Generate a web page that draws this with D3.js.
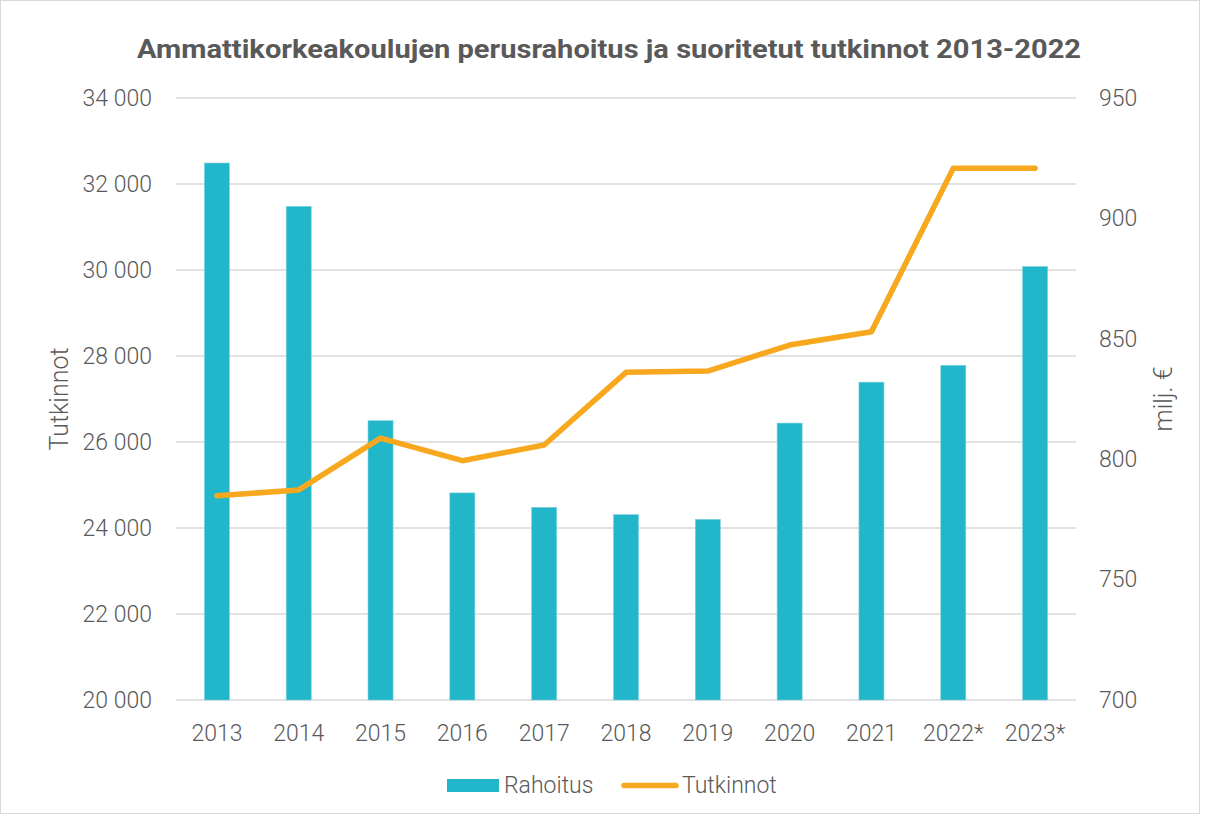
<!DOCTYPE html>
<html>
<head>
<meta charset="utf-8">
<script src="https://cdn.jsdelivr.net/npm/d3@7"></script>
<style>
  html, body { margin: 0; padding: 0; background: #fff; }
  svg { display: block; }
  text { font-family: Roboto, "Noto Sans", sans-serif; }
</style>
</head>
<body>
<svg id="chart" width="1206" height="816"></svg>
<script>
const title = "Ammattikorkeakoulujen perusrahoitus ja suoritetut tutkinnot 2013-2022";
const years = ["2013","2014","2015","2016","2017","2018","2019","2020","2021","2022*","2023*"];
const rahoitus = [923, 905, 816, 786, 780, 777, 775, 815, 832, 839, 880];
const tutkinnot = [24750, 24885, 26090, 25565, 25930, 27620, 27650, 28255, 28565, 32365, 32365];
const leftTicks = [20000, 22000, 24000, 26000, 28000, 30000, 32000, 34000];
const rightTicks = [700, 750, 800, 850, 900, 950];
const leftTitle = "Tutkinnot";
const rightTitle = "milj. €";
const legendLabels = ["Rahoitus", "Tutkinnot"];

const W = 1206, H = 816;
const m = {left: 176, right: 130, top: 98, bottom: 116};
const svg = d3.select("#chart");
const textColor = "#595959";
const barColor = "#21B6CA";
const lineColor = "#F7A81E";
const gridColor = "#D9D9D9";

// border
svg.append("rect").attr("x", 0.5).attr("y", 0.5).attr("width", W - 7).attr("height", H - 3)
  .attr("fill", "none").attr("stroke", "#D9D9D9").attr("stroke-width", 1);

const x = d3.scaleBand().domain(years).range([m.left, W - m.right]);
const yL = d3.scaleLinear().domain([20000, 34000]).range([H - m.bottom, m.top]);
const yR = d3.scaleLinear().domain([700, 950]).range([H - m.bottom, m.top]);

const fi = d3.formatLocale({decimal: ",", thousands: " ", grouping: [3], currency: ["", " €"]});
const fmt = fi.format(",d");

// gridlines
svg.append("g").selectAll("line").data(leftTicks).join("line")
  .attr("x1", m.left).attr("x2", W - m.right)
  .attr("y1", d => yL(d)).attr("y2", d => yL(d))
  .attr("stroke", gridColor).attr("stroke-width", 1.5);

// left axis
const gL = svg.append("g").attr("transform", `translate(${m.left - 24},0)`)
  .call(d3.axisLeft(yL).tickValues(leftTicks).tickFormat(fmt).tickSize(0).tickPadding(0));
gL.select(".domain").remove();
gL.selectAll("text").attr("fill", textColor).style("font-size", "23px").style("font-weight", 300)
  .style("font-family", "Roboto, sans-serif");

// right axis
const gR = svg.append("g").attr("transform", `translate(${W - m.right + 23},0)`)
  .call(d3.axisRight(yR).tickValues(rightTicks).tickSize(0).tickPadding(0));
gR.select(".domain").remove();
gR.selectAll("text").attr("fill", textColor).style("font-size", "23px").style("font-weight", 300)
  .style("font-family", "Roboto, sans-serif");

// x axis
const gX = svg.append("g").attr("transform", `translate(0,${H - m.bottom + 25})`)
  .call(d3.axisBottom(x).tickSize(0).tickPadding(0));
gX.select(".domain").remove();
gX.selectAll("text").attr("fill", textColor).style("font-size", "23px").style("font-weight", 300)
  .style("font-family", "Roboto, sans-serif").attr("dy", "0.71em");

// bars
const bw = x.bandwidth() * 0.306;
svg.append("g").selectAll("rect").data(years).join("rect")
  .attr("x", d => x(d) + x.bandwidth() / 2 - bw / 2)
  .attr("width", bw)
  .attr("y", (d, i) => yR(rahoitus[i]))
  .attr("height", (d, i) => yR(700) - yR(rahoitus[i]))
  .attr("fill", barColor).attr("stroke", "#7ED3DE").attr("stroke-width", 0.6);

// line
const line = d3.line().x((d, i) => x(years[i]) + x.bandwidth() / 2).y(d => yL(d));
svg.append("path").datum(tutkinnot).attr("d", line)
  .attr("fill", "none").attr("stroke", lineColor).attr("stroke-width", 5.5)
  .attr("stroke-linecap", "round").attr("stroke-linejoin", "round");

// title
svg.append("text").attr("x", 609).attr("y", 58).attr("text-anchor", "middle")
  .attr("fill", textColor).style("font-size", "26px").style("font-weight", 700)
  .attr("textLength", 944).attr("lengthAdjust", "spacingAndGlyphs")
  .text(title);

// axis titles
svg.append("text").attr("transform", `translate(68,${(m.top + H - m.bottom) / 2}) rotate(-90)`)
  .attr("text-anchor", "middle").attr("fill", textColor)
  .style("font-size", "25px").style("font-weight", 300).text(leftTitle);
svg.append("text").attr("transform", `translate(1172,${(m.top + H - m.bottom) / 2}) rotate(-90)`)
  .attr("text-anchor", "middle").attr("fill", textColor)
  .style("font-size", "25px").style("font-weight", 300).text(rightTitle);

// legend
const lg = svg.append("g");
lg.append("rect").attr("x", 447).attr("y", 779).attr("width", 52).attr("height", 13).attr("fill", barColor);
lg.append("text").attr("x", 504).attr("y", 793).attr("fill", textColor)
  .style("font-size", "23px").style("font-weight", 300).text(legendLabels[0]);
lg.append("line").attr("x1", 624).attr("x2", 676).attr("y1", 785.5).attr("y2", 785.5)
  .attr("stroke", lineColor).attr("stroke-width", 5.5).attr("stroke-linecap", "round");
lg.append("text").attr("x", 682).attr("y", 793).attr("fill", textColor)
  .style("font-size", "23px").style("font-weight", 300).text(legendLabels[1]);
</script>
</body>
</html>
